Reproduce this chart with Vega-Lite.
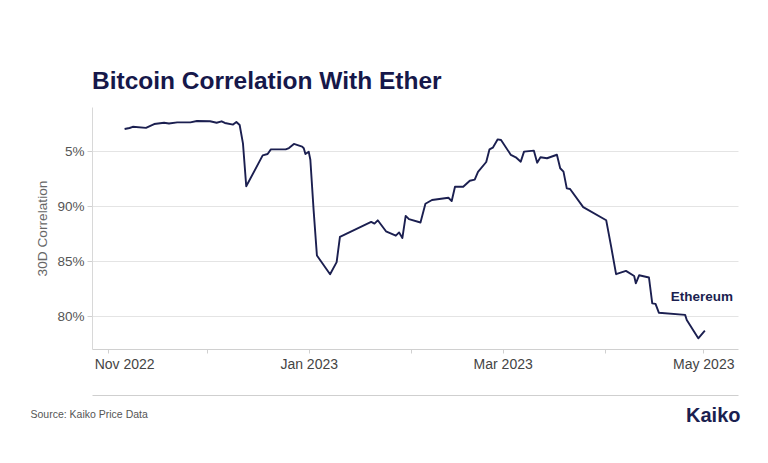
{
  "$schema": "https://vega.github.io/schema/vega-lite/v6.json",
  "width": 646,
  "height": 242,
  "autosize": {"type": "none"},
  "padding": {"left": 92, "top": 107, "right": 30, "bottom": 114},
  "background": "white",
  "config": {
    "view": {"stroke": null},
    "font": "Liberation Sans"
  },
  "title": {
    "text": "Bitcoin Correlation With Ether",
    "anchor": "start",
    "frame": "group",
    "font": "Liberation Sans",
    "fontSize": 24.5,
    "fontWeight": "bold",
    "color": "#16184a",
    "offset": 13
  },
  "data": {
    "values": [
      {"date": "2022-11-06T00:00:00", "corr": 97.0},
      {"date": "2022-11-07T12:00:00", "corr": 97.09},
      {"date": "2022-11-08T12:00:00", "corr": 97.2},
      {"date": "2022-11-12T12:00:00", "corr": 97.1},
      {"date": "2022-11-15T00:00:00", "corr": 97.45},
      {"date": "2022-11-18T00:00:00", "corr": 97.57},
      {"date": "2022-11-19T12:00:00", "corr": 97.5},
      {"date": "2022-11-22T00:00:00", "corr": 97.6},
      {"date": "2022-11-26T00:00:00", "corr": 97.6},
      {"date": "2022-11-28T00:00:00", "corr": 97.73},
      {"date": "2022-12-02T00:00:00", "corr": 97.7},
      {"date": "2022-12-04T00:00:00", "corr": 97.57},
      {"date": "2022-12-05T12:00:00", "corr": 97.7},
      {"date": "2022-12-06T12:00:00", "corr": 97.55},
      {"date": "2022-12-09T00:00:00", "corr": 97.4},
      {"date": "2022-12-10T00:00:00", "corr": 97.64},
      {"date": "2022-12-11T00:00:00", "corr": 97.36},
      {"date": "2022-12-12T00:00:00", "corr": 95.7},
      {"date": "2022-12-13T00:00:00", "corr": 91.8},
      {"date": "2022-12-18T00:00:00", "corr": 94.6},
      {"date": "2022-12-19T12:00:00", "corr": 94.73},
      {"date": "2022-12-20T12:00:00", "corr": 95.15},
      {"date": "2022-12-25T00:00:00", "corr": 95.15},
      {"date": "2022-12-26T00:00:00", "corr": 95.27},
      {"date": "2022-12-27T12:00:00", "corr": 95.64},
      {"date": "2022-12-30T00:00:00", "corr": 95.4},
      {"date": "2022-12-30T12:00:00", "corr": 95.25},
      {"date": "2022-12-31T00:00:00", "corr": 94.73},
      {"date": "2023-01-01T00:00:00", "corr": 94.94},
      {"date": "2023-01-01T12:00:00", "corr": 94.2},
      {"date": "2023-01-02T12:00:00", "corr": 89.6},
      {"date": "2023-01-03T12:00:00", "corr": 85.5},
      {"date": "2023-01-07T12:00:00", "corr": 83.8},
      {"date": "2023-01-09T12:00:00", "corr": 84.9},
      {"date": "2023-01-10T12:00:00", "corr": 87.2},
      {"date": "2023-01-20T00:00:00", "corr": 88.55},
      {"date": "2023-01-21T00:00:00", "corr": 88.4},
      {"date": "2023-01-22T00:00:00", "corr": 88.7},
      {"date": "2023-01-24T12:00:00", "corr": 87.7},
      {"date": "2023-01-27T12:00:00", "corr": 87.3},
      {"date": "2023-01-28T12:00:00", "corr": 87.6},
      {"date": "2023-01-29T12:00:00", "corr": 87.1},
      {"date": "2023-01-30T12:00:00", "corr": 89.1},
      {"date": "2023-01-31T12:00:00", "corr": 88.8},
      {"date": "2023-02-04T00:00:00", "corr": 88.5},
      {"date": "2023-02-05T12:00:00", "corr": 90.2},
      {"date": "2023-02-07T12:00:00", "corr": 90.55},
      {"date": "2023-02-12T12:00:00", "corr": 90.75},
      {"date": "2023-02-13T12:00:00", "corr": 90.45},
      {"date": "2023-02-14T12:00:00", "corr": 91.75},
      {"date": "2023-02-17T00:00:00", "corr": 91.75},
      {"date": "2023-02-19T00:00:00", "corr": 92.3},
      {"date": "2023-02-20T12:00:00", "corr": 92.4},
      {"date": "2023-02-21T12:00:00", "corr": 93.1},
      {"date": "2023-02-24T00:00:00", "corr": 94.0},
      {"date": "2023-02-25T00:00:00", "corr": 95.15},
      {"date": "2023-02-26T00:00:00", "corr": 95.3},
      {"date": "2023-02-27T12:00:00", "corr": 96.06},
      {"date": "2023-02-28T12:00:00", "corr": 96.0},
      {"date": "2023-03-03T12:00:00", "corr": 94.64},
      {"date": "2023-03-05T00:00:00", "corr": 94.43},
      {"date": "2023-03-06T12:00:00", "corr": 94.03},
      {"date": "2023-03-07T12:00:00", "corr": 94.94},
      {"date": "2023-03-10T12:00:00", "corr": 95.03},
      {"date": "2023-03-11T12:00:00", "corr": 93.94},
      {"date": "2023-03-12T12:00:00", "corr": 94.43},
      {"date": "2023-03-14T12:00:00", "corr": 94.34},
      {"date": "2023-03-17T12:00:00", "corr": 94.66},
      {"date": "2023-03-18T12:00:00", "corr": 93.43},
      {"date": "2023-03-19T12:00:00", "corr": 93.12},
      {"date": "2023-03-20T12:00:00", "corr": 91.6},
      {"date": "2023-03-21T12:00:00", "corr": 91.55},
      {"date": "2023-03-25T12:00:00", "corr": 89.9},
      {"date": "2023-04-01T12:00:00", "corr": 88.7},
      {"date": "2023-04-03T00:00:00", "corr": 86.3},
      {"date": "2023-04-04T12:00:00", "corr": 83.8},
      {"date": "2023-04-07T12:00:00", "corr": 84.1},
      {"date": "2023-04-10T00:00:00", "corr": 83.64},
      {"date": "2023-04-10T12:00:00", "corr": 82.97},
      {"date": "2023-04-11T12:00:00", "corr": 83.7},
      {"date": "2023-04-14T12:00:00", "corr": 83.5},
      {"date": "2023-04-15T12:00:00", "corr": 81.15},
      {"date": "2023-04-16T12:00:00", "corr": 81.1},
      {"date": "2023-04-17T12:00:00", "corr": 80.3},
      {"date": "2023-04-25T12:00:00", "corr": 80.1},
      {"date": "2023-04-26T00:00:00", "corr": 79.64},
      {"date": "2023-04-29T12:00:00", "corr": 77.97},
      {"date": "2023-05-01T12:00:00", "corr": 78.66}
    ]
  },
  "resolve": {"axis": {"x": "independent", "y": "independent"}},
  "layer": [
    {
      "mark": {"type": "line", "color": "#1b1f50", "strokeWidth": 1.9, "strokeJoin": "round", "clip": false},
      "encoding": {
        "x": {
          "field": "date",
          "type": "temporal",
          "scale": {"domain": ["2022-10-27T02:00:00", "2023-05-11T14:00:00"]},
          "axis": {
            "title": null,
            "values": [
              {"year": 2022, "month": 11, "date": 1},
              {"year": 2022, "month": 12, "date": 1},
              {"year": 2023, "month": 1, "date": 1},
              {"year": 2023, "month": 2, "date": 1},
              {"year": 2023, "month": 3, "date": 1},
              {"year": 2023, "month": 4, "date": 1},
              {"year": 2023, "month": 5, "date": 1}
            ],
            "labelExpr": "month(datum.value) % 2 == 0 ? timeFormat(datum.value, '%b %Y') : ''",
            "labelFlush": 20,
            "labelFlushOffset": 14,
            "grid": false,
            "domainColor": "#d0d0d0",
            "tickColor": "#d0d0d0",
            "tickSize": 4,
            "labelFontSize": 14,
            "labelColor": "#444444",
            "labelPadding": 4,
            "labelFont": "Liberation Sans"
          }
        },
        "y": {
          "field": "corr",
          "type": "quantitative",
          "scale": {"domain": [77, 99], "nice": false, "zero": false},
          "axis": {
            "title": "30D Correlation",
            "values": [80, 85, 90, 95],
            "labelExpr": "datum.value == 95 ? '5%' : datum.value + '%'",
            "grid": true,
            "gridColor": "#e4e4e4",
            "domainColor": "#d8d8d8",
            "tickColor": "#d0d0d0",
            "tickSize": 5,
            "labelPadding": 3,
            "labelFontSize": 13.5,
            "labelColor": "#555555",
            "labelFont": "Liberation Sans",
            "titleFont": "Liberation Sans",
            "titleFontSize": 13.7,
            "titleFontWeight": "normal",
            "titleColor": "#666666",
            "titlePadding": 7
          }
        }
      }
    },
    {
      "transform": [
        {"window": [{"op": "row_number", "as": "rank"}], "sort": [{"field": "date", "order": "descending"}]},
        {"filter": "datum.rank == 1"}
      ],
      "mark": {"type": "text", "text": "Ethereum", "fontSize": 13.5, "fontWeight": "bold", "color": "#1b1f50", "dy": -34, "dx": -3, "align": "center", "font": "Liberation Sans"},
      "encoding": {
        "x": {
          "field": "date",
          "type": "temporal",
          "axis": {
            "orient": "bottom",
            "offset": 46,
            "domain": true,
            "domainColor": "#cfcfcf",
            "ticks": false,
            "labels": false,
            "grid": false,
            "title": "Source: Kaiko Price Data",
            "titleAnchor": "start",
            "titleAlign": "left",
            "titleBaseline": "middle",
            "titleX": -62,
            "titleY": 19,
            "titleFont": "Liberation Sans",
            "titleFontSize": 10.5,
            "titleFontWeight": "normal",
            "titleColor": "#555555"
          }
        },
        "y": {
          "field": "corr",
          "type": "quantitative",
          "axis": {
            "orient": "right",
            "domain": false,
            "ticks": false,
            "labels": false,
            "grid": false,
            "title": "Kaiko",
            "titleAngle": 0,
            "titleAlign": "right",
            "titleBaseline": "middle",
            "titleX": 2,
            "titleY": 308,
            "titleFont": "Liberation Sans",
            "titleFontSize": 20,
            "titleFontWeight": "bold",
            "titleColor": "#1b1f50"
          }
        }
      }
    }
  ]
}
